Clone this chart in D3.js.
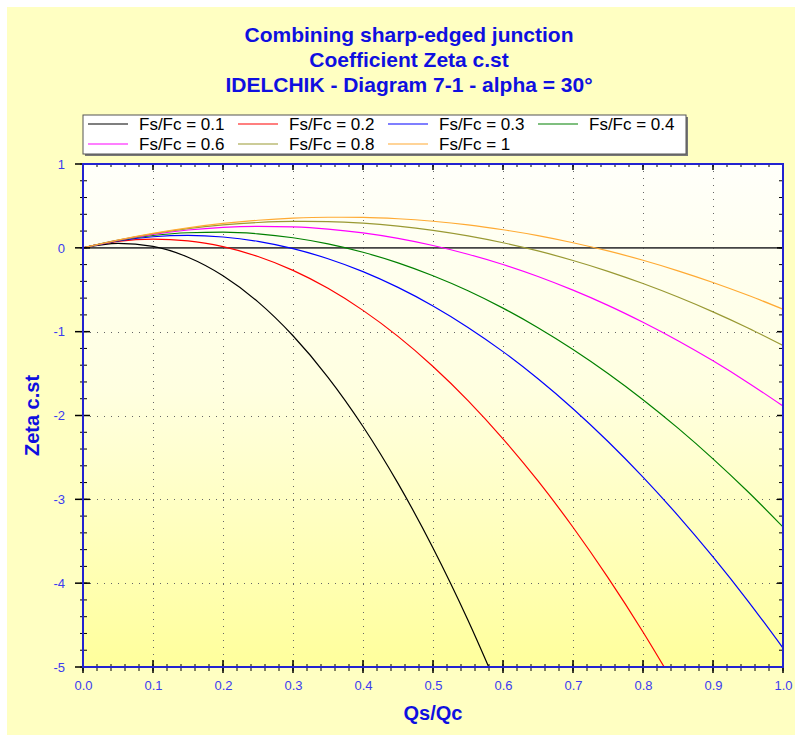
<!DOCTYPE html>
<html>
<head>
<meta charset="utf-8">
<script src="https://cdn.jsdelivr.net/npm/d3@7"></script>
<style>
  html, body { margin: 0; padding: 0; background: #ffffff; }
  svg { display: block; font-family: "Liberation Sans", Arial, sans-serif; }
</style>
</head>
<body>
<svg id="chart" width="795" height="735"></svg>
<script>
// ---- Data ----
const titleLines = ["Combining sharp-edged junction", "Coefficient Zeta c.st", "IDELCHIK - Diagram 7-1 - alpha = 30°"];
const xLabel = "Qs/Qc";
const yLabel = "Zeta c.st";
const qValues = [0, 0.05, 0.1, 0.15, 0.2, 0.25, 0.3, 0.35, 0.4, 0.45, 0.5, 0.55, 0.6, 0.65, 0.7, 0.75, 0.8, 0.85, 0.9, 0.95, 1.0];
const seriesNames = ["Fs/Fc = 0.1", "Fs/Fc = 0.2", "Fs/Fc = 0.3", "Fs/Fc = 0.4", "Fs/Fc = 0.6", "Fs/Fc = 0.8", "Fs/Fc = 1"];
const zeta01 = [0, 0.054, 0.017, -0.112, -0.333, -0.645, -1.049, -1.544, -2.131, -2.810, -3.580, -4.442, -5.395];
const zeta02 = [0, 0.076, 0.103, 0.083, 0.014, -0.104, -0.269, -0.483, -0.746, -1.056, -1.415, -1.822, -2.278, -2.781, -3.333, -3.934, -4.582, -5.279];
const zeta03 = [0, 0.083, 0.132, 0.148, 0.129, 0.077, -0.010, -0.130, -0.284, -0.472, -0.693, -0.949, -1.238, -1.562, -1.919, -2.310, -2.735, -3.194, -3.687, -4.213, -4.774];
const zeta04 = [0, 0.087, 0.147, 0.180, 0.187, 0.167, 0.120, 0.047, -0.053, -0.179, -0.333, -0.512, -0.719, -0.952, -1.212, -1.498, -1.811, -2.151, -2.517, -2.910, -3.330];
const zeta06 = [0, 0.090, 0.161, 0.213, 0.245, 0.257, 0.250, 0.224, 0.178, 0.113, 0.028, -0.076, -0.199, -0.342, -0.505, -0.686, -0.888, -1.108, -1.348, -1.608, -1.887];
const zeta08 = [0, 0.092, 0.168, 0.229, 0.273, 0.302, 0.315, 0.312, 0.294, 0.259, 0.209, 0.143, 0.061, -0.037, -0.151, -0.280, -0.426, -0.587, -0.764, -0.956, -1.165];
const zeta10 = [0, 0.093, 0.173, 0.239, 0.291, 0.329, 0.354, 0.365, 0.363, 0.347, 0.317, 0.274, 0.216, 0.146, 0.061, -0.037, -0.148, -0.274, -0.413, -0.566, -0.732];
const seriesColors = ["#000000", "#ff0000", "#0000ff", "#008000", "#ff00ff", "#999933", "#ffaa33"];
const xTicks = [0, 0.1, 0.2, 0.3, 0.4, 0.5, 0.6, 0.7, 0.8, 0.9, 1.0];
const yTicks = [1, 0, -1, -2, -3, -4, -5];

const allSeries = [zeta01, zeta02, zeta03, zeta04, zeta06, zeta08, zeta10];

// ---- Layout ----
const svg = d3.select("#chart");
const W = 795, H = 735;
const plot = { left: 83, right: 783, top: 164, bottom: 667 };

const x = d3.scaleLinear().domain([0, 1]).range([plot.left, plot.right]);
const y = d3.scaleLinear().domain([-5, 1]).range([plot.bottom, plot.top]);

const defs = svg.append("defs");
const bgGrad = defs.append("linearGradient").attr("id", "plotBg").attr("x1", 0).attr("y1", 0).attr("x2", 0).attr("y2", 1);
bgGrad.append("stop").attr("offset", "0%").attr("stop-color", "#fffffa");
bgGrad.append("stop").attr("offset", "45%").attr("stop-color", "#ffffe0");
bgGrad.append("stop").attr("offset", "100%").attr("stop-color", "#ffff9c");
defs.append("clipPath").attr("id", "plotClip").append("rect")
  .attr("x", plot.left).attr("y", plot.top)
  .attr("width", plot.right - plot.left).attr("height", plot.bottom - plot.top);

// outer background
svg.append("rect").attr("x", 7).attr("y", 7).attr("width", W - 7).attr("height", H - 7).attr("fill", "#ffffc2");

// title
const titleColor = "#0f0fe0";
svg.append("g").selectAll("text").data(titleLines).join("text")
  .attr("x", 409).attr("y", (d, i) => 42 + i * 25)
  .attr("text-anchor", "middle")
  .attr("font-size", 21).attr("font-weight", "bold").attr("fill", titleColor)
  .text(d => d);

// legend
const lg = svg.append("g");
lg.append("rect").attr("x", 85).attr("y", 117).attr("width", 603).attr("height", 39).attr("fill", "#777");
lg.append("rect").attr("x", 83).attr("y", 115).attr("width", 603).attr("height", 39)
  .attr("fill", "#ffffff").attr("stroke", "#555").attr("stroke-width", 1);
const legItems = lg.selectAll("g.item").data(seriesNames).join("g").attr("class", "item")
  .attr("transform", (d, i) => `translate(${88 + (i % 4) * 150},${124 + Math.floor(i / 4) * 20})`);
legItems.append("line").attr("x1", 0).attr("x2", 40).attr("y1", 0).attr("y2", 0)
  .attr("stroke", (d, i) => seriesColors[i]).attr("stroke-width", 1.2);
legItems.append("text").attr("x", 51).attr("y", 6).attr("font-size", 17).attr("fill", "#000").text(d => d);

// plot background
svg.append("rect").attr("x", plot.left).attr("y", plot.top)
  .attr("width", plot.right - plot.left).attr("height", plot.bottom - plot.top).attr("fill", "url(#plotBg)");

// grid
const grid = svg.append("g").attr("stroke", "#666").attr("stroke-width", 1).attr("stroke-dasharray", "1,6");
grid.selectAll("line.vx").data(xTicks.filter(d => d > 0 && d < 1)).join("line")
  .attr("x1", d => Math.round(x(d)) + 0.5).attr("x2", d => Math.round(x(d)) + 0.5)
  .attr("y1", plot.top).attr("y2", plot.bottom);
grid.selectAll("line.hy").data(yTicks.filter(d => d < 0 && d > -5)).join("line")
  .attr("x1", plot.left).attr("x2", plot.right)
  .attr("y1", d => Math.round(y(d)) + 0.5).attr("y2", d => Math.round(y(d)) + 0.5);

// zero line
svg.append("line").attr("x1", plot.left).attr("x2", plot.right)
  .attr("y1", y(0)).attr("y2", y(0)).attr("stroke", "#444").attr("stroke-width", 1.6);

// curves
const line = d3.line().x((d, i) => x(qValues[i])).y(d => y(d)).curve(d3.curveMonotoneX);
svg.append("g").attr("clip-path", "url(#plotClip)").selectAll("path").data(allSeries).join("path")
  .attr("d", d => line(d)).attr("fill", "none")
  .attr("stroke", (d, i) => seriesColors[i]).attr("stroke-width", 1.2);

// axes
const axisColor = "#2323d0";
const labelColor = "#3b3bf0";
const tickColor = "#000";
const xMinor = d3.range(0, 1.0001, 0.02);
const yMinor = d3.range(-5, 1.0001, 0.2);

const bottomAxis = d3.axisBottom(x).tickValues(xTicks).tickFormat(d => d.toFixed(1)).tickSize(0).tickPadding(14);
const gB = svg.append("g").attr("transform", `translate(0,${plot.bottom})`).call(bottomAxis);
gB.select(".domain").remove();
gB.selectAll("text").attr("fill", labelColor).attr("font-size", 13).attr("font-family", "Liberation Sans, Arial, sans-serif");

const leftAxis = d3.axisLeft(y).tickValues(yTicks).tickFormat(d => String(d)).tickSize(0).tickPadding(18);
const gL = svg.append("g").attr("transform", `translate(${plot.left},0)`).call(leftAxis);
gL.select(".domain").remove();
gL.selectAll("text").attr("fill", labelColor).attr("font-size", 13).attr("font-family", "Liberation Sans, Arial, sans-serif");

const ticks = svg.append("g").attr("stroke", tickColor).attr("stroke-width", 1);
// bottom (crossing)
ticks.selectAll("line.bm").data(xMinor).join("line")
  .attr("x1", d => x(d)).attr("x2", d => x(d)).attr("y1", plot.bottom - 3).attr("y2", plot.bottom + 4);
ticks.selectAll("line.bM").data(xTicks).join("line")
  .attr("x1", d => x(d)).attr("x2", d => x(d)).attr("y1", plot.bottom - 7).attr("y2", plot.bottom + 6).attr("stroke-width", 1.5);
// top (inward)
ticks.selectAll("line.tm").data(xMinor).join("line")
  .attr("x1", d => x(d)).attr("x2", d => x(d)).attr("y1", plot.top).attr("y2", plot.top + 3);
ticks.selectAll("line.tM").data(xTicks).join("line")
  .attr("x1", d => x(d)).attr("x2", d => x(d)).attr("y1", plot.top).attr("y2", plot.top + 6).attr("stroke-width", 1.5);
// left (crossing)
ticks.selectAll("line.lm").data(yMinor).join("line")
  .attr("x1", plot.left - 3).attr("x2", plot.left + 4).attr("y1", d => y(d)).attr("y2", d => y(d));
ticks.selectAll("line.lM").data(yTicks).join("line")
  .attr("x1", plot.left - 8).attr("x2", plot.left + 7).attr("y1", d => y(d)).attr("y2", d => y(d)).attr("stroke-width", 1.5);
// right (inward)
ticks.selectAll("line.rm").data(yMinor).join("line")
  .attr("x1", plot.right - 4).attr("x2", plot.right).attr("y1", d => y(d)).attr("y2", d => y(d));
ticks.selectAll("line.rM").data(yTicks).join("line")
  .attr("x1", plot.right - 6).attr("x2", plot.right).attr("y1", d => y(d)).attr("y2", d => y(d)).attr("stroke-width", 1.5);

// frame
svg.append("rect").attr("x", plot.left).attr("y", plot.top)
  .attr("width", plot.right - plot.left).attr("height", plot.bottom - plot.top)
  .attr("fill", "none").attr("stroke", axisColor).attr("stroke-width", 2);

// axis titles
svg.append("text").attr("x", (plot.left + plot.right) / 2).attr("y", 720)
  .attr("text-anchor", "middle").attr("font-size", 20).attr("font-weight", "bold").attr("fill", titleColor).text(xLabel);
svg.append("text").attr("transform", `translate(39,${(plot.top + plot.bottom) / 2}) rotate(-90)`)
  .attr("text-anchor", "middle").attr("font-size", 20).attr("font-weight", "bold").attr("fill", titleColor).text(yLabel);
</script>
</body>
</html>
